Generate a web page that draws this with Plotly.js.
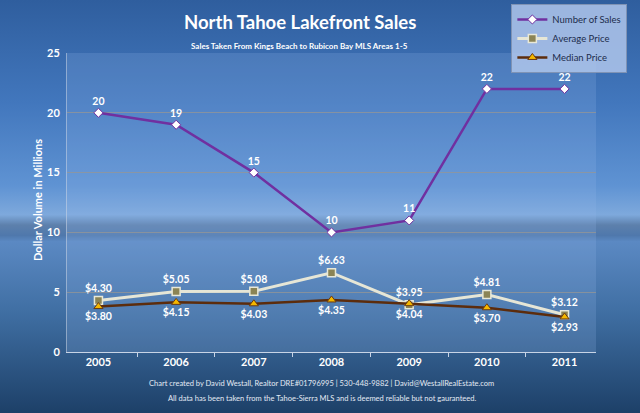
<!DOCTYPE html>
<html>
<head>
<meta charset="utf-8">
<script src="https://cdn.plot.ly/plotly-3.0.1.min.js"></script>
<style>
  html, body { margin: 0; padding: 0; }
  #graph {
    width: 640px; height: 413px;
    background: linear-gradient(to bottom,
      #2f5e9e 0%, #4277bd 25%, #5f93d3 45%, #7ea9dc 52%,
      #5d80ac 54.5%, #4f78ac 57%, #5b89c3 58.5%,
      #3f6ea2 76%, #1d4068 100%);
  }
</style>
</head>
<body>
<div id="graph"></div>
<script>
// chart values
const years = ['2005', '2006', '2007', '2008', '2009', '2010', '2011'];
const numSales = [20, 19, 15, 10, 11, 22, 22];
const avgPrice = [4.30, 5.05, 5.08, 6.63, 3.95, 4.81, 3.12];
const medPrice = [3.80, 4.15, 4.03, 4.35, 4.04, 3.70, 2.93];
const yTicks = [0, 5, 10, 15, 20, 25];

const labelFont = { family: 'Lato, sans-serif', size: 10.5, color: '#ffffff', weight: 'bold' };

const salesTrace = {
    x: years, y: numSales,
    name: 'Number of Sales',
    type: 'scatter', mode: 'lines+markers+text',
    text: numSales.map(String),
    textposition: 'top center',
    textfont: labelFont,
    line: { color: '#7030a0', width: 2.5 },
    marker: { symbol: 'diamond', size: 7, color: '#ffffff', line: { color: '#7030a0', width: 1 } },
    cliponaxis: false
};

const avgTrace = {
    x: years, y: avgPrice,
    name: 'Average Price',
    type: 'scatter', mode: 'lines+markers+text',
    texttemplate: '$%{y:.2f}',
    textposition: 'top center',
    textfont: labelFont,
    line: { color: '#e6e6d6', width: 3 },
    marker: { symbol: 'square', size: 8, color: '#8b8455', line: { color: '#e8e8d8', width: 1.5 } },
    cliponaxis: false
};

const medTrace = {
    x: years, y: medPrice,
    name: 'Median Price',
    type: 'scatter', mode: 'lines+markers+text',
    texttemplate: '$%{y:.2f}',
    textposition: 'bottom center',
    textfont: labelFont,
    line: { color: '#5c2c0c', width: 2.5 },
    marker: { symbol: 'triangle-up', size: 8, color: '#f5b800', line: { color: '#6b3a10', width: 1 } },
    cliponaxis: false
};

const layout = {
    width: 640, height: 413,
    margin: { l: 67, r: 44, t: 53, b: 61, autoexpand: false },
    paper_bgcolor: 'rgba(0,0,0,0)',
    plot_bgcolor: 'rgba(150,185,235,0.2)',
    font: { family: 'Lato, sans-serif', color: '#ffffff' },
    showlegend: true,
    legend: {
        x: 0.84, y: 1.164, xanchor: 'left', yanchor: 'top',
        bgcolor: 'rgba(175,198,235,0.85)',
        bordercolor: '#7f93b5', borderwidth: 1,
        font: { family: 'Lato, sans-serif', size: 9.5, color: '#1c2c4c' },
        tracegroupgap: 0,
        itemwidth: 30
    },
    xaxis: {
        type: 'category',
        showgrid: false,
        showline: true, linecolor: '#c8d4e6', linewidth: 1,
        ticks: 'outside', tickson: 'boundaries', ticklen: 4, tickcolor: '#c8d4e6',
        tickfont: { family: 'Lato, sans-serif', size: 11, color: '#ffffff', weight: 'bold' },
        fixedrange: true
    },
    yaxis: {
        range: [0, 25],
        tickvals: yTicks,
        showgrid: true, gridcolor: 'rgba(150,150,150,0.75)', gridwidth: 1,
        zeroline: false,
        showline: true, linecolor: 'rgba(200,212,230,0.6)',
        tickfont: { family: 'Lato, sans-serif', size: 11, color: '#ffffff', weight: 'bold' },
        ticklabelstandoff: 4,
        fixedrange: true
    },
    annotations: [
        { text: '<b>North Tahoe Lakefront Sales</b>', xref: 'paper', yref: 'paper',
          x: 0.44, y: 1.104, yanchor: 'middle', showarrow: false,
          font: { family: 'Lato, sans-serif', size: 18.5, color: '#ffffff' } },
        { text: '<b>Sales Taken From Kings Beach to Rubicon Bay MLS Areas 1-5</b>', xref: 'paper', yref: 'paper',
          x: 0.44, y: 1.023, yanchor: 'middle', showarrow: false,
          font: { family: 'Lato, sans-serif', size: 8, color: '#ffffff' } },
        { text: '<b>Dollar Volume in Millions</b>', xref: 'paper', yref: 'paper',
          x: -0.057, y: 0.508, xanchor: 'center', yanchor: 'middle', showarrow: false, textangle: -90,
          font: { family: 'Lato, sans-serif', size: 11, color: '#ffffff' } },
        { text: 'Chart created by David Westall, Realtor DRE#01796995 | 530-448-9882 | David@WestallRealEstate.com',
          xref: 'paper', yref: 'paper', x: 0.482, y: -0.107, yanchor: 'middle', showarrow: false,
          font: { family: 'Lato, sans-serif', size: 7.5, color: '#e4eaf4' } },
        { text: 'All data has been taken from the Tahoe-Sierra MLS and is deemed reliable but not gauranteed.',
          xref: 'paper', yref: 'paper', x: 0.482, y: -0.154, yanchor: 'middle', showarrow: false,
          font: { family: 'Lato, sans-serif', size: 7.5, color: '#e4eaf4' } }
    ]
};

Plotly.newPlot('graph', [salesTrace, avgTrace, medTrace], layout, { displayModeBar: false, staticPlot: true });
</script>
</body>
</html>
